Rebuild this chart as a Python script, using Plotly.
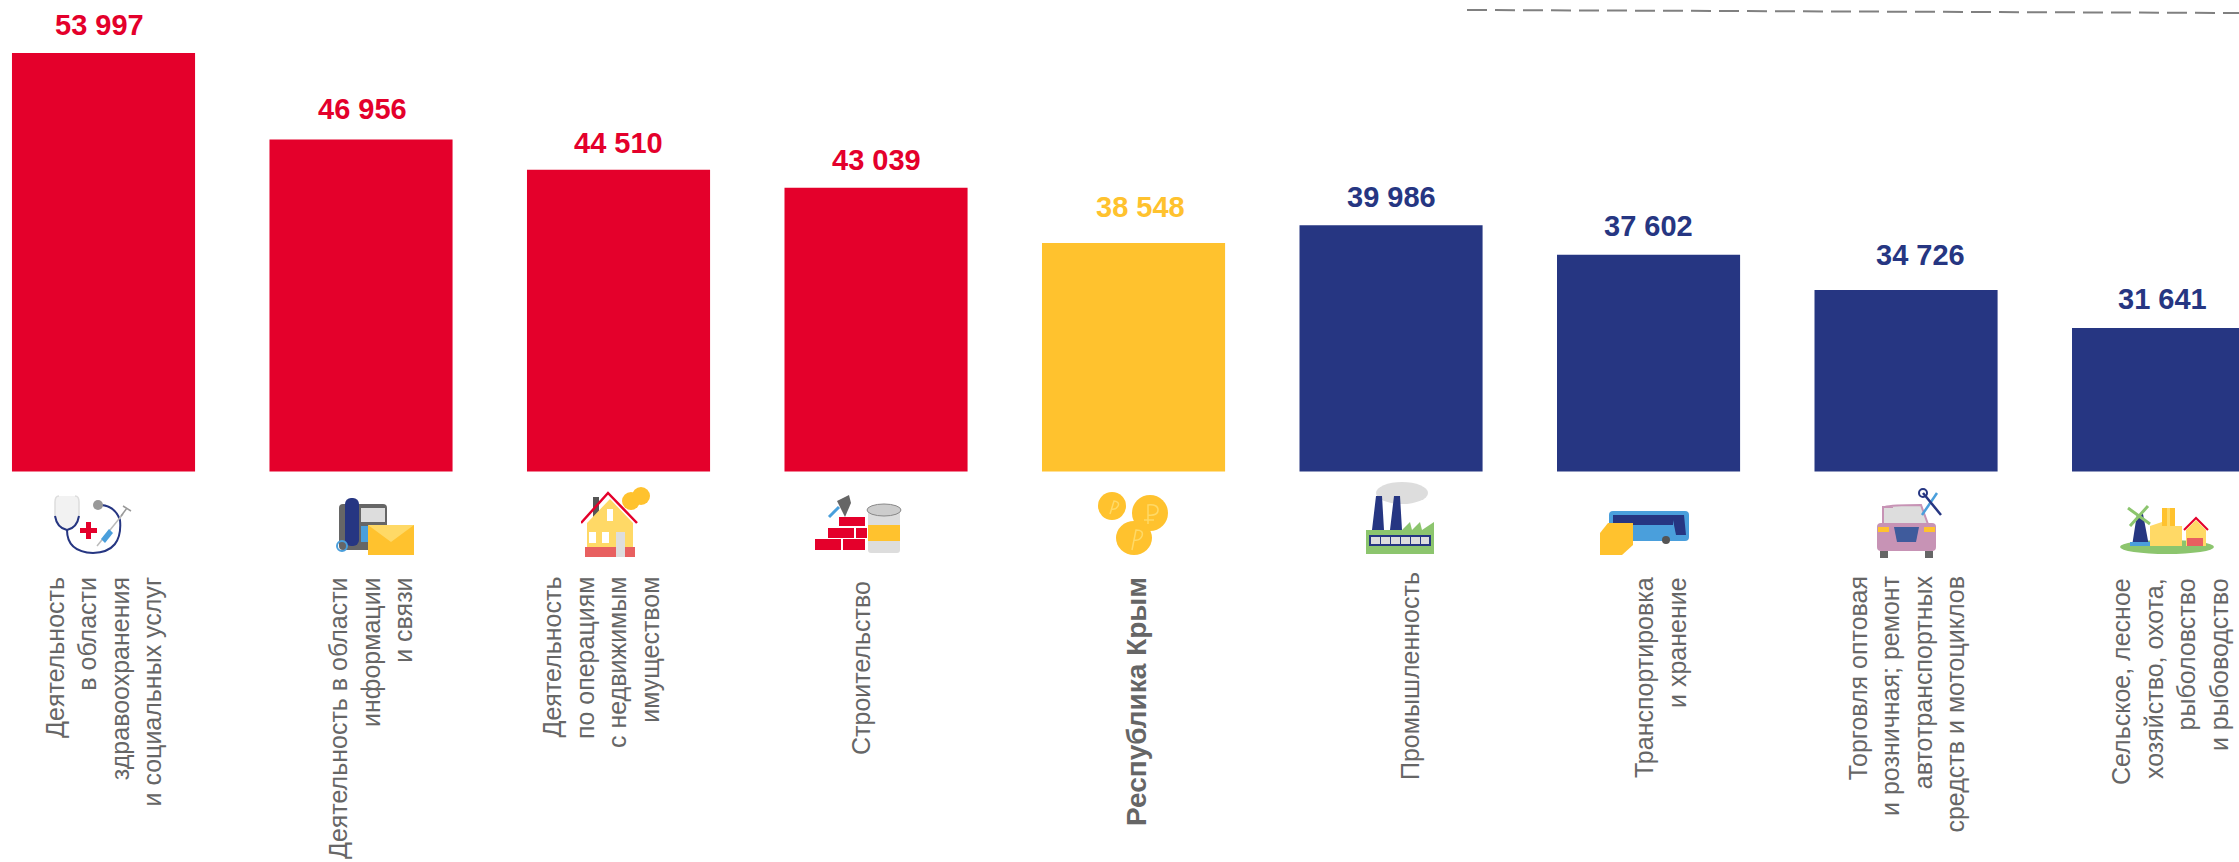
import base64
import plotly.graph_objects as go

W = 2239
H = 862

categories = [
    "Деятельность<br>в области<br>здравоохранения<br>и социальных услуг",
    "Деятельность в области<br>информации<br>и связи",
    "Деятельность<br>по операциям<br>с недвижимым<br>имуществом",
    "Строительство",
    "<b>Республика Крым</b>",
    "Промышленность",
    "Транспортировка<br>и хранение",
    "Торговля оптовая<br>и розничная; ремонт<br>автотранспортных<br>средств и мотоциклов",
    "Сельское, лесное<br>хозяйство, охота,<br>рыболовство<br>и рыбоводство",
]
values = [53997, 46956, 44510, 43039, 38548, 39986, 37602, 34726, 31641]

RED = "#E4002B"
YELLOW = "#FFC22E"
NAVY = "#263682"
GREY = "#666666"
colors = [RED, RED, RED, RED, YELLOW, NAVY, NAVY, NAVY, NAVY]

# small nudges (px) of the hand-placed labels in the original
value_dx = [-4, 1, 0, 0, 7, 0, 0, 14, -1]
value_dy = [28, 31, 27, 28, 36, 28, 29, 35, 29]
label_dx = [0, 9, -18, -15, 3, 19, 12, 0, 6]
label_top = [577, 577, 577, 581, 577, 572, 577, 576, 578]
label_size = [25, 25, 25, 25, 28, 25, 25, 25, 25]

# icons: svg body, left, top, width, height in page pixels
ICONS = [
    ('<path d="M6 4 Q2 4 2 10 L2 24 Q4 36 14 38 Q24 36 26 24 L26 10 Q26 4 22 4" fill="#f2f2f2" stroke="#ddd" stroke-width="1.5"/>'
     '<path d="M2 24 Q4 36 14 38 Q24 36 26 24 M14 38 Q14 60 40 61 Q70 60 67 28 Q62 14 48 13" fill="none" stroke="#263682" stroke-width="2"/>'
     '<circle cx="45" cy="13" r="5" fill="#999"/>'
     '<path d="M33 30 h5 v6 h6 v5 h-6 v6 h-5 v-6 h-6 v-5 h6z" fill="#E4002B"/>'
     '<path d="M44 54 L70 22" stroke="#bbb" stroke-width="1.5"/><path d="M48 47 L56 37 L60 41 L52 51z" fill="#4A9FDC"/>'
     '<path d="M68 24 L74 16 M70 14 L78 19" stroke="#999" stroke-width="1.5"/>', 53, 492, 79, 63),
    ('<rect x="4" y="8" width="48" height="46" rx="4" fill="#666"/><rect x="10" y="2" width="14" height="48" rx="6" fill="#263682"/>'
     '<rect x="26" y="12" width="24" height="14" fill="#ddd"/><rect x="26" y="30" width="24" height="16" fill="#4A9FDC"/>'
     '<circle cx="7" cy="50" r="5" fill="none" stroke="#4A9FDC" stroke-width="2"/>'
     '<rect x="33" y="29" width="46" height="30" fill="#FFC22E"/><path d="M33 29 L56 46 L79 29z" fill="#FFD966"/>', 335, 496, 79, 59),
    ('<rect x="12" y="10" width="6" height="20" fill="#555"/><path d="M6 36 L6 70 L52 70 L52 36 L29 12z" fill="#FFD966"/>'
     '<rect x="4" y="60" width="50" height="10" fill="#E86060"/><path d="M0 36 L27 6 L56 36" fill="none" stroke="#E4002B" stroke-width="2.5"/>'
     '<rect x="26" y="22" width="6" height="12" fill="#fff"/><rect x="8" y="45" width="7" height="11" fill="#fff"/><rect x="21" y="45" width="7" height="11" fill="#fff"/>'
     '<rect x="35" y="45" width="9" height="25" fill="#ddd"/><ellipse cx="50" cy="14" rx="9" ry="9" fill="#FFC22E"/><ellipse cx="60" cy="9" rx="9" ry="9" fill="#FFC22E"/>', 581, 487, 70, 70),
    ('<path d="M30 22 L36 8 L34 0 L22 6z" fill="#666"/><path d="M14 22 L24 12" stroke="#4A9FDC" stroke-width="3"/>'
     '<rect x="24" y="22" width="26" height="9" fill="#E4002B"/><rect x="13" y="33" width="26" height="10" fill="#E4002B"/><rect x="0" y="44" width="26" height="11" fill="#E4002B"/>'
     '<rect x="28" y="44" width="22" height="11" fill="#E4002B"/><rect x="41" y="33" width="11" height="10" fill="#E4002B"/>'
     '<rect x="53" y="16" width="32" height="42" rx="3" fill="#ddd"/><rect x="53" y="30" width="32" height="16" fill="#FFC22E"/>'
     '<ellipse cx="69" cy="15" rx="17" ry="6" fill="#ccc" stroke="#888"/>', 815, 495, 87, 58),
    ('<ellipse cx="14" cy="14" rx="14" ry="14" fill="#FFC22E"/><ellipse cx="36" cy="46" rx="18" ry="17" fill="#FFC22E"/><ellipse cx="52" cy="21" rx="18" ry="18" fill="#FFC22E"/>'
     '<g stroke="#FFD966" fill="none" stroke-width="1.5"><path d="M50 32 V13 Q60 12 60 18 Q60 24 50 23 M46 28 H56"/><path d="M34 58 L38 38 Q46 38 44 44 Q42 49 36 48"/><path d="M12 22 L16 9 Q22 10 20 14 Q18 18 13 17"/></g>', 1098, 492, 71, 63),
    ('<ellipse cx="36" cy="11" rx="26" ry="11" fill="#ddd"/><path d="M6 48 L10 14 L16 14 L18 48z M24 48 L28 14 L34 14 L36 48z" fill="#263682"/>'
     '<path d="M0 48 L36 48 L44 40 L46 48 L54 40 L56 48 L68 40 L68 72 L0 72z" fill="#8CC56E"/>'
     '<rect x="3" y="53" width="62" height="11" fill="#263682"/><g fill="#ddd"><rect x="5" y="55" width="9" height="7"/><rect x="15" y="55" width="9" height="7"/><rect x="25" y="55" width="9" height="7"/><rect x="35" y="55" width="9" height="7"/><rect x="45" y="55" width="9" height="7"/><rect x="55" y="55" width="8" height="7"/></g>', 1366, 482, 68, 72),
    ('<rect x="9" y="0" width="80" height="30" rx="4" fill="#4A9FDC"/><rect x="13" y="4" width="60" height="10" fill="#263682"/>'
     '<path d="M72 4 L84 4 L86 24 L76 24z" fill="#263682"/><circle cx="66" cy="29" r="4" fill="#555"/>'
     '<path d="M0 22 L8 12 L33 12 L33 34 L22 44 L0 44z" fill="#FFC22E"/>', 1600, 511, 89, 44),
    ('<path d="M6 20 L16 20 L8 20 Q14 18 44 18 L52 40 L6 40z" fill="#ddd" stroke="#C793B5" stroke-width="2"/><rect x="0" y="36" width="59" height="28" rx="4" fill="#C793B5"/>'
     '<rect x="3" y="64" width="8" height="7" fill="#666"/><rect x="48" y="64" width="8" height="7" fill="#666"/><path d="M17 40 H42 L39 55 H20z" fill="#3F5B9C"/>'
     '<rect x="1" y="40" width="11" height="5" fill="#FFC22E"/><rect x="47" y="40" width="11" height="5" fill="#FFC22E"/>'
     '<path d="M45 28 L60 6" stroke="#4A9FDC" stroke-width="2.5"/><path d="M64 28 L46 6" stroke="#263682" stroke-width="2.5"/><circle cx="46" cy="6" r="4" fill="none" stroke="#263682" stroke-width="2"/>', 1877, 487, 68, 71),
    ('<ellipse cx="47" cy="45" rx="47" ry="7" fill="#8CC56E"/><path d="M12 44 L17 12 L23 12 L29 44z" fill="#263682"/><rect x="10" y="40" width="22" height="4" fill="#4A9FDC"/>'
     '<path d="M8 6 L30 22 M28 4 L10 24" stroke="#8CC56E" stroke-width="3"/><path d="M30 44 V24 L42 20 V6 H47 V20 V6 H52 V24 H62 V44z" fill="#FFD966"/>'
     '<path d="M42 24 V6 H47 V24z M50 24 V6 H55 V24z" fill="#FFC22E"/><path d="M66 44 V28 L76 18 L86 28 V44z" fill="#FFD966"/><path d="M64 28 L76 16 L88 28" fill="none" stroke="#E4002B" stroke-width="2"/>'
     '<rect x="67" y="36" width="16" height="8" fill="#E86060"/>', 2120, 502, 95, 52),
]


def svg_uri(body, w, h):
    svg = f'<svg xmlns="http://www.w3.org/2000/svg" viewBox="0 0 {w} {h}" width="{w}" height="{h}">{body}</svg>'
    return "data:image/svg+xml;base64," + base64.b64encode(svg.encode("utf-8")).decode("ascii")


fig = go.Figure()

fig.add_trace(go.Bar(x=categories, y=values, marker_color=colors, marker_line_width=0, showlegend=False))

for i, cat in enumerate(categories):
    # value above bar
    fig.add_annotation(x=cat, y=values[i], xref="x", yref="y", text=f"<b>{values[i]:,}</b>".replace(",", " "),
                       showarrow=False, xshift=value_dx[i], yshift=value_dy[i], xanchor="center", yanchor="middle",
                       font=dict(family="Liberation Sans", size=29, color=colors[i]))
    # rotated category name
    fig.add_annotation(x=cat, y=1 - label_top[i] / H, xref="x", yref="paper", text=cat, textangle=-90,
                       showarrow=False, xshift=label_dx[i], xanchor="center", yanchor="top", align="right",
                       borderpad=0, borderwidth=0,
                       font=dict(family="Liberation Sans", size=label_size[i], color=GREY))

for body, left, top, w, h in ICONS:
    fig.add_layout_image(source=svg_uri(body, w, h), xref="paper", yref="paper", x=left / W, y=1 - top / H,
                         sizex=w / W, sizey=h / H, xanchor="left", yanchor="top", sizing="stretch", layer="above")

# dashed rule, top right
fig.add_shape(type="line", xref="paper", yref="paper", x0=1467 / W, x1=1, y0=1 - 10 / H, y1=1 - 13 / H,
              line=dict(color="#808080", width=2, dash="20px,8px"))

fig.update_layout(
    width=W, height=H, autosize=False,
    margin=dict(l=0, r=0, t=0, b=0),
    paper_bgcolor="white", plot_bgcolor="white",
    bargap=0.289,
    xaxis=dict(visible=False, type="category", range=[-0.402, 8.293]),
    yaxis=dict(visible=False, domain=[(H - 471.5) / H, 1], range=[19973, 58306]),
)

fig.write_html("out.html", post_script="document.body.style.margin='0';", config={"displayModeBar": False})
